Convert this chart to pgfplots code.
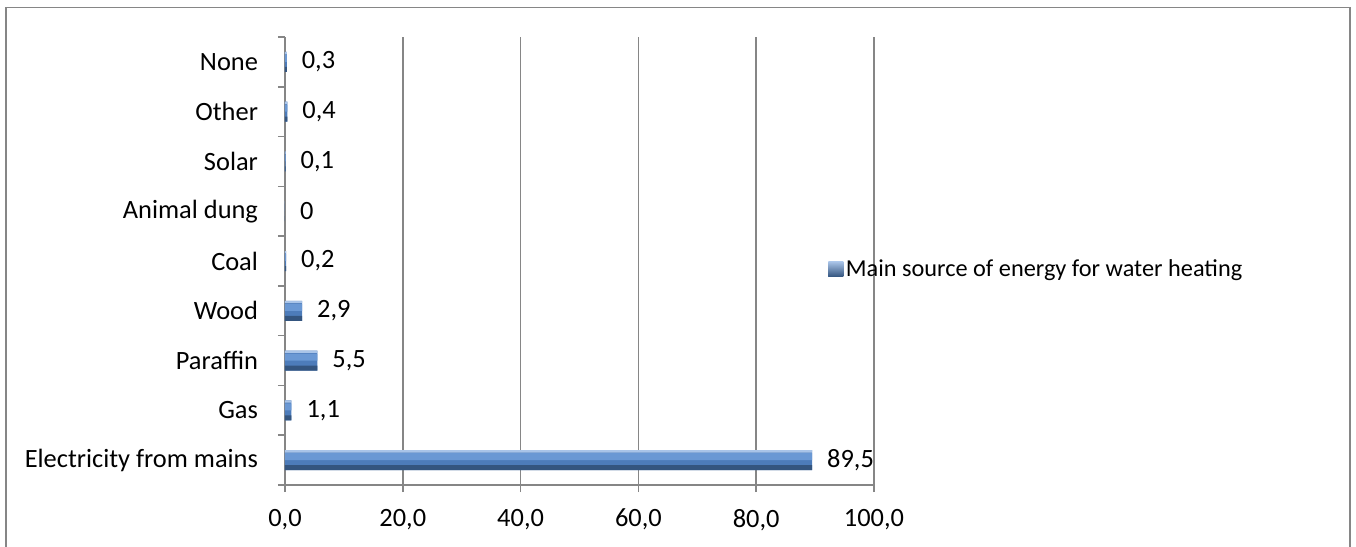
\documentclass[border=0pt]{standalone}
\usepackage{fontspec}
\setmainfont{Carlito}
\usepackage{pgfplots}
\pgfplotsset{compat=1.18}
\definecolor{gridgray}{HTML}{868686}
\definecolor{barmid}{HTML}{4D7CBA}
\definecolor{barhi}{HTML}{6A98D4}
\definecolor{bartop}{HTML}{A9C4E8}
\definecolor{barbot}{HTML}{34557F}
\newcommand{\cf}{\fontsize{13.25}{15}\selectfont}
\newcommand{\lf}{\fontsize{12.2}{14}\selectfont}
\pgfplotstableread{
x y
89.5 0
1.1 1
5.5 2
2.9 3
0.2 4
0 5
0.1 6
0.4 7
0.3 8
}\datatable
\begin{document}
\begin{tikzpicture}
\clip (-142.5bp,-31bp) rectangle (535.5bp,242.5bp);
\draw[gridgray, line width=0.9bp] (-139.5bp,-60bp) rectangle (532.5bp,238.75bp);
\begin{axis}[
  scale only axis,
  width=294.5bp, height=224bp,
  xmin=0, xmax=100,
  ymin=-0.5, ymax=8.5,
  xbar, bar width=10bp,
  axis lines=left,
  axis line style={gridgray, line width=0.8bp, -},
  tick style={gridgray, line width=0.8bp},
  tick align=outside,
  major tick length=3.5bp,
  xtick={0,20,40,60,80,100},
  xmajorgrids,
  grid style={gridgray, line width=0.8bp},
  ytick={-0.5,0.5,...,8.5},
  yticklabels={},
  extra y ticks={0,1,2,3,4,5,6,7,8},
  extra y tick labels={Electricity from mains,Gas,Paraffin,Wood,Coal,Animal dung,Solar,Other\ ,None},
  extra y tick style={major tick length=0pt, grid=none},
  yticklabel style={font=\cf, xshift=-10bp},
  xticklabel style={font=\cf, yshift=-5bp, /pgf/number format/fixed, /pgf/number format/fixed zerofill, /pgf/number format/precision=1, /pgf/number format/use comma, /pgf/number format/assume math mode=true},
  legend style={at={(0.922,0.482)}, anchor=west, draw=none, fill=none, inner sep=0pt, font=\lf,
     nodes={inner sep=1.2bp}},
  legend image code/.code={\shade[top color=bartop, middle color=barmid, bottom color=barbot] (0bp,-3.75bp) rectangle (7.5bp,3.75bp);},
]
\addplot[draw=none, fill=barmid, bar shift=0pt,
  nodes near coords, nodes near coords align={horizontal},
  every node near coord/.append style={font=\cf, black, xshift=4bp, /pgf/number format/use comma, /pgf/number format/assume math mode=true}]
  table[x=x, y=y] {\datatable};
\addlegendentry{Main source of energy for water heating}
\addplot[draw=none, fill=barhi, bar width=3.5bp, bar shift=1.75bp, forget plot] table[x=x, y=y] {\datatable};
\addplot[draw=none, fill=bartop, bar width=1.2bp, bar shift=4.4bp, forget plot] table[x=x, y=y] {\datatable};
\addplot[draw=none, fill=barbot, bar width=2.5bp, bar shift=-3.75bp, forget plot] table[x=x, y=y] {\datatable};
\end{axis}
\end{tikzpicture}
\end{document}
